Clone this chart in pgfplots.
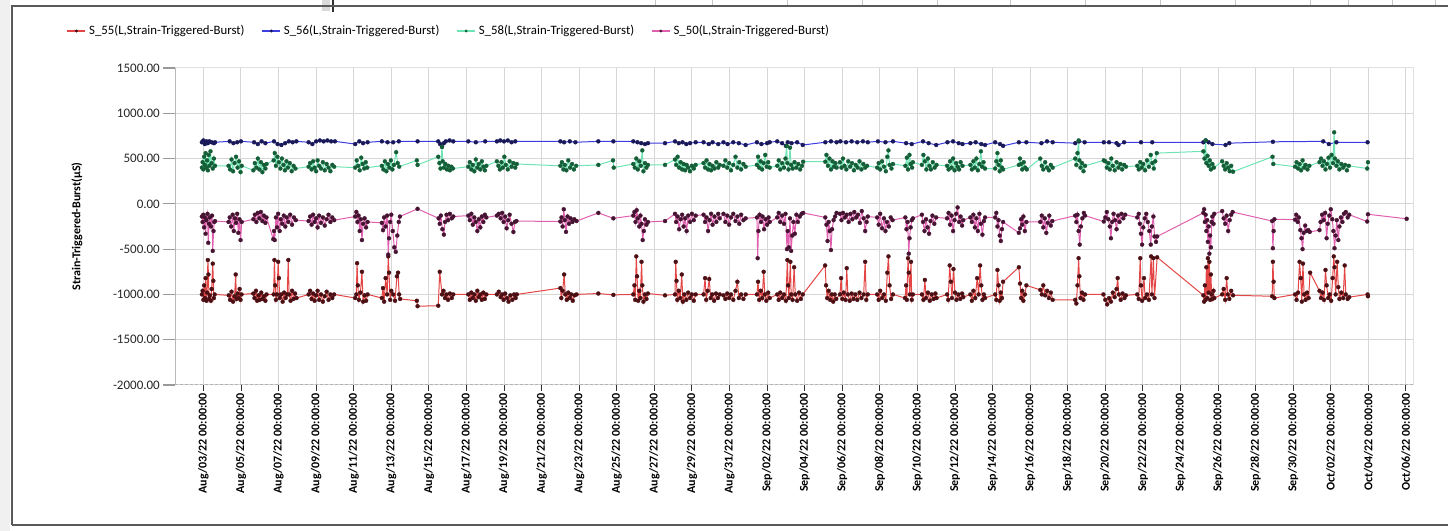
\documentclass[border=0pt]{standalone}
\usepackage{pgfplots}
\pgfplotsset{compat=1.18}
\usepackage{fontspec}
\setmainfont{Carlito}

\definecolor{l55}{RGB}{228,70,70}
\definecolor{m55}{RGB}{75,15,20}
\definecolor{l56}{RGB}{60,60,225}
\definecolor{m56}{RGB}{25,25,90}
\definecolor{l58}{RGB}{110,228,180}
\definecolor{m58}{RGB}{20,95,55}
\definecolor{l50}{RGB}{225,95,175}
\definecolor{m50}{RGB}{70,20,50}
\definecolor{gridc}{RGB}{215,215,215}
\definecolor{framec}{RGB}{90,90,90}

\begin{document}
\begin{tikzpicture}[x=1bp,y=1bp]
\useasboundingbox (0,0) rectangle (1448,531);
% window chrome around the chart panel
\fill[gray!12] (0,0) rectangle (10,531);
\foreach \xx in {655,712,787,862,937,1010,1085,1160,1235,1310,1348,1392,1435}{\draw[gray!45, line width=0.8bp] (\xx,525) -- (\xx,531);}
\fill[gray!30] (322,520) rectangle (330,531);
\draw[black!80, line width=1.4bp] (333,519) -- (333,531);
\draw[framec, line width=1.6bp] (12,6) -- (12,525) -- (1460,525);
\draw[framec, line width=1.6bp] (12,6) -- (1460,6);

\begin{axis}[
  at={(175bp,146bp)}, anchor=south west,
  scale only axis, width=1238bp, height=317bp,
  xmin=-1.51, xmax=64.38, ymin=-2000, ymax=1500,
  clip=false,
  axis line style={draw=none},
  xtick={0,2,...,64},
  xticklabels={Aug/03/22 00:00:00,Aug/05/22 00:00:00,Aug/07/22 00:00:00,Aug/09/22 00:00:00,Aug/11/22 00:00:00,Aug/13/22 00:00:00,Aug/15/22 00:00:00,Aug/17/22 00:00:00,Aug/19/22 00:00:00,Aug/21/22 00:00:00,Aug/23/22 00:00:00,Aug/25/22 00:00:00,Aug/27/22 00:00:00,Aug/29/22 00:00:00,Aug/31/22 00:00:00,Sep/02/22 00:00:00,Sep/04/22 00:00:00,Sep/06/22 00:00:00,Sep/08/22 00:00:00,Sep/10/22 00:00:00,Sep/12/22 00:00:00,Sep/14/22 00:00:00,Sep/16/22 00:00:00,Sep/18/22 00:00:00,Sep/20/22 00:00:00,Sep/22/22 00:00:00,Sep/24/22 00:00:00,Sep/26/22 00:00:00,Sep/28/22 00:00:00,Sep/30/22 00:00:00,Oct/02/22 00:00:00,Oct/04/22 00:00:00,Oct/06/22 00:00:00},
  ytick={-2000,-1500,...,1500},
  xtick pos=bottom, ytick pos=left,
  tick align=outside,
  major tick length=6bp,
  x tick style={black!80, line width=0.9bp},
  y tick style={draw=none},
  xticklabel style={rotate=90, anchor=east, font=\bfseries\fontsize{12bp}{14bp}\selectfont, inner sep=2bp},
  yticklabel style={font=\fontsize{13bp}{15bp}\selectfont, inner sep=3bp, text=black!85, xshift=-6bp},
  /pgf/number format/.cd, fixed, fixed zerofill, precision=2, 1000 sep={}, assume math mode=true,
  /pgfplots/.cd,
  grid=major,
  major grid style={draw=gridc, line width=1bp},
  ylabel={Strain-Triggered-Burst(µS)},
  every axis y label/.style={at={(rel axis cs:-0.0792,0.5)}, rotate=90, anchor=center, font=\bfseries\fontsize{12bp}{14bp}\selectfont},
  legend columns=4,
  legend style={at={(rel axis cs:-0.088,1.1167)}, anchor=west, draw=none, fill=none, inner sep=0pt,
    font=\fontsize{12.8bp}{15bp}\selectfont,
    nodes={inner sep=2.5bp},
    /tikz/every even column/.append style={column sep=14bp}},
  legend image code/.code={\draw[line width=2.4bp, mark repeat=2, mark phase=2, mark size=1.3bp] plot coordinates {(0bp,0bp) (9bp,0bp) (18bp,0bp)};},
]

% S_55
\addplot[color=l55, line width=1bp, mark=*, mark size=2bp, mark options={fill=m55, draw=m55, solid, line width=0.3bp}] coordinates {
(-0.08,-1000) (-0.04,-960) (0.00,-1060) (0.04,-900) (0.08,-1040) (0.12,-820) (0.16,-1070) (0.20,-980) (0.24,-620) (0.27,-780) (0.30,-1050) (0.34,-1010) (0.40,-1070) (0.44,-940) (0.50,-660) (0.53,-850) (0.56,-1040) (0.60,-1000)
(1.35,-1010) (1.42,-1060) (1.50,-970) (1.58,-1080) (1.66,-1020) (1.72,-780) (1.76,-1050) (1.82,-990) (1.88,-1040) (1.93,-940) (1.98,-1060) (2.03,-1000)
(2.66,-990) (2.72,-1040) (2.80,-960) (2.86,-1070) (2.94,-1010) (3.00,-1060) (3.08,-980) (3.15,-1050) (3.22,-1020) (3.30,-1070) (3.36,-1000)
(3.74,-1000) (3.78,-620) (3.82,-900) (3.86,-1060) (3.92,-1000) (3.98,-640) (4.02,-820) (4.06,-1040) (4.14,-1000) (4.22,-1080) (4.30,-980) (4.38,-1040) (4.46,-1000) (4.52,-620) (4.56,-1000) (4.64,-1070) (4.72,-960) (4.80,-1050) (4.88,-990) (4.96,-1040)
(5.60,-1000) (5.68,-960) (5.76,-1050) (5.84,-990) (5.92,-1070) (6.00,-1010) (6.08,-960) (6.16,-1060) (6.26,-1000) (6.36,-1080) (6.46,-1020) (6.56,-970) (6.66,-1060) (6.76,-1000) (6.86,-1040) (6.96,-1000)
(8.08,-1040) (8.14,-1000) (8.18,-655) (8.22,-900) (8.28,-1060) (8.36,-980) (8.44,-750) (8.50,-1080) (8.58,-1010) (8.66,-1070) (8.74,-1000)
(9.50,-1040) (9.56,-930) (9.62,-1080) (9.70,-820) (9.78,-1000) (9.84,-580) (9.88,-760) (9.94,-1060) (10.00,-960) (10.10,-1000) (10.20,-1070) (10.30,-800) (10.36,-760) (10.42,-1000) (10.47,-1050)
(11.36,-1070) (11.40,-1130) (12.50,-1125)
(12.58,-750) (12.70,-1000) (12.78,-960) (12.86,-1040) (12.94,-1000) (13.02,-1060) (13.12,-990) (13.22,-1040) (13.30,-1000)
(14.10,-1000) (14.18,-1060) (14.26,-980) (14.34,-1040) (14.42,-1000) (14.50,-1070) (14.58,-960) (14.66,-1030) (14.74,-1000) (14.82,-1060) (14.90,-980) (14.98,-1050) (15.06,-1000)
(15.62,-1000) (15.72,-970) (15.82,-1030) (15.90,-1000) (15.98,-1060) (16.06,-990) (16.16,-1040) (16.24,-1080) (16.34,-1010) (16.44,-1060) (16.54,-1000) (16.62,-1040) (16.68,-1000)
(19.00,-930) (19.05,-1040) (19.12,-960) (19.20,-780) (19.26,-1000) (19.34,-1060) (19.42,-980) (19.50,-1040) (19.58,-1000) (19.66,-1070) (19.76,-1010) (19.86,-1000)
(21.02,-990) (21.82,-1005)
(22.88,-1000) (22.94,-900) (22.98,-1060) (23.04,-580) (23.08,-800) (23.14,-1070) (23.20,-960) (23.26,-1040) (23.32,-640) (23.36,-900) (23.42,-1080) (23.50,-1000) (23.58,-1050) (23.66,-990)
(24.57,-1010)
(25.10,-1000) (25.14,-640) (25.18,-850) (25.22,-1060) (25.30,-960) (25.38,-1040) (25.46,-780) (25.52,-1080) (25.60,-1000) (25.70,-1060) (25.80,-980) (25.90,-1040) (26.00,-1000) (26.10,-1070) (26.20,-1000)
(26.62,-1000) (26.70,-820) (26.76,-1060) (26.84,-960) (26.92,-830) (27.00,-1040) (27.08,-1000) (27.18,-1070) (27.28,-990) (27.38,-1040) (27.48,-1000)
(27.68,-1010) (27.78,-1050) (27.88,-990) (27.98,-1040) (28.08,-1000) (28.20,-1060) (28.32,-960) (28.42,-860) (28.50,-1040) (28.62,-1000) (28.74,-1050) (28.86,-1000)
(29.46,-1000) (29.52,-860) (29.58,-1060) (29.66,-960) (29.74,-1040) (29.82,-750) (29.88,-1000) (29.96,-1070) (30.06,-980) (30.14,-1040)
(30.54,-1000) (30.62,-1060) (30.70,-980) (30.80,-1040) (30.90,-1000) (31.00,-1070) (31.08,-620) (31.12,-900) (31.16,-1040) (31.24,-640) (31.28,-1000) (31.36,-1060) (31.44,-700) (31.50,-1000) (31.60,-1070) (31.70,-980) (31.80,-1050) (31.90,-1000)
(33.09,-680) (33.14,-900) (33.20,-1040) (33.28,-960) (33.36,-1060) (33.44,-1000) (33.52,-1080) (33.60,-1000) (33.68,-1050)
(33.88,-1000) (33.94,-820) (34.00,-1050) (34.08,-980) (34.18,-1060) (34.24,-710) (34.30,-1000) (34.40,-1070) (34.50,-990) (34.60,-1050) (34.70,-1000) (34.80,-1060) (34.92,-980) (35.02,-1040) (35.14,-1000) (35.22,-640) (35.28,-1060) (35.36,-1000)
(35.86,-1000) (35.94,-1060) (36.02,-960) (36.12,-1040) (36.22,-1000) (36.32,-1070) (36.40,-760) (36.46,-580) (36.52,-900) (36.60,-1050) (36.70,-1000)
(37.34,-1040) (37.40,-900) (37.44,-1060) (37.50,-600) (37.54,-760) (37.60,-1000) (37.66,-640) (37.70,-1060) (37.76,-1000)
(38.24,-1000) (38.32,-1060) (38.40,-840) (38.46,-1040) (38.56,-980) (38.66,-1070) (38.76,-1000) (38.86,-1050) (38.96,-990) (39.02,-1040)
(39.58,-1000) (39.64,-1060) (39.72,-680) (39.78,-860) (39.84,-1040) (39.92,-720) (40.00,-980) (40.08,-1060) (40.18,-1000) (40.28,-1050) (40.38,-990) (40.44,-1030)
(40.82,-1000) (40.90,-1070) (40.98,-960) (41.08,-1040) (41.18,-820) (41.26,-1000) (41.34,-680) (41.40,-900) (41.46,-1060) (41.54,-1000) (41.60,-1040)
(42.14,-1000) (42.20,-1060) (42.26,-730) (42.32,-900) (42.38,-1070) (42.44,-980) (42.50,-1040) (42.56,-860)
(43.40,-700) (43.46,-880) (43.52,-1040) (43.58,-960) (43.64,-1070) (43.72,-1000) (43.80,-900)
(44.54,-950) (44.62,-1000) (44.70,-900) (44.80,-1010) (44.90,-960) (45.00,-1040) (45.10,-980) (45.20,-1060)
(46.40,-1060) (46.46,-1100) (46.52,-900) (46.58,-600) (46.62,-800) (46.68,-1040) (46.76,-980) (46.84,-1060) (46.92,-1000)
(47.90,-1000) (48.00,-1060) (48.10,-1110) (48.20,-1040) (48.30,-1080) (48.40,-980) (48.50,-1030) (48.60,-940) (48.66,-820) (48.72,-1000) (48.82,-1060) (48.92,-990) (49.02,-1040) (49.10,-1010)
(49.70,-1000) (49.78,-1050) (49.86,-600) (49.90,-900) (49.96,-1070) (50.06,-820) (50.12,-1040) (50.22,-1000) (50.32,-1060) (50.44,-580) (50.48,-1000) (50.56,-600) (50.62,-1040) (50.76,-590)
(53.22,-1010) (53.26,-1080) (53.30,-900) (53.34,-1060) (53.38,-700) (53.42,-1040) (53.46,-600) (53.50,-980) (53.54,-640) (53.58,-1060) (53.62,-780) (53.66,-1000) (53.70,-1050) (53.76,-960) (53.80,-1040)
(54.22,-1000) (54.30,-940) (54.38,-1060) (54.46,-820) (54.52,-1000) (54.60,-1050) (54.70,-960) (54.80,-1010)
(56.88,-1020) (56.92,-640) (56.96,-860) (57.00,-1040)
(58.10,-1000) (58.18,-1060) (58.26,-980) (58.34,-640) (58.40,-820) (58.46,-1080) (58.52,-660) (58.58,-1000) (58.66,-1060) (58.74,-980) (58.82,-1040) (58.90,-760)
(59.40,-960) (59.48,-1040) (59.56,-980) (59.64,-1060) (59.72,-730) (59.78,-900) (59.86,-1040) (59.94,-1000) (60.02,-1070) (60.10,-820) (60.16,-580) (60.20,-700) (60.26,-1000) (60.34,-640) (60.40,-920) (60.46,-1050) (60.56,-980) (60.66,-1040) (60.74,-680) (60.80,-1000) (60.90,-1050) (60.98,-1030)
(61.96,-1000) (61.98,-1020)
};
\addlegendentry{S\_55(L,Strain-Triggered-Burst)}

% S_56
\addplot[color=l56, line width=1bp, mark=*, mark size=2bp, mark options={fill=m56, draw=m56, solid, line width=0.3bp}] coordinates {
(-0.08,680) (0.00,700) (0.08,660) (0.16,690) (0.24,670) (0.32,690) (0.44,680) (0.56,670) (0.62,680)
(1.40,690) (1.60,670) (1.80,680) (2.00,690)
(2.70,680) (2.90,660) (3.10,690) (3.30,670)
(3.76,690) (3.95,660) (4.15,650) (4.35,670) (4.55,690) (4.75,680) (4.95,690)
(5.60,680) (5.80,660) (6.00,690) (6.20,700) (6.40,690) (6.60,700) (6.80,690) (7.00,690)
(8.08,660) (8.30,690) (8.50,670) (8.74,680)
(9.50,690) (9.80,680) (10.10,680) (10.40,690)
(11.40,690) (12.50,690) (12.60,660) (12.70,630) (12.80,670) (12.90,690) (13.10,700) (13.30,690)
(14.10,690) (14.50,680) (15.00,690)
(15.62,690) (15.80,700) (16.00,690) (16.20,700) (16.40,680) (16.60,690)
(19.00,690) (19.20,680) (19.50,690) (19.80,680)
(21.02,690) (21.82,690)
(22.88,690) (23.10,680) (23.30,670) (23.50,660) (23.66,670)
(24.57,670)
(25.10,690) (25.30,670) (25.50,680) (25.70,660) (25.90,670) (26.20,680)
(26.62,680) (26.90,660) (27.10,680) (27.40,660)
(27.68,680) (27.90,660) (28.20,680) (28.50,670) (28.86,650)
(29.46,680) (29.70,660) (30.00,670) (30.14,680)
(30.54,690) (30.80,670) (31.00,640) (31.10,680) (31.30,670) (31.60,680) (31.90,650)
(33.10,680) (33.40,690) (33.70,680)
(33.90,690) (34.20,680) (34.50,690) (34.80,680) (35.10,690) (35.36,680)
(35.90,690) (36.30,680) (36.70,690)
(37.40,670) (37.70,660)
(38.30,690) (38.60,670) (39.00,650)
(39.60,680) (39.90,690) (40.20,670) (40.40,660)
(40.82,670) (41.10,680) (41.40,660) (41.60,650)
(42.14,680) (42.40,660) (42.56,640)
(43.40,680) (43.80,680)
(44.60,670) (44.90,690) (45.20,680)
(46.40,670) (46.60,690) (46.90,680)
(47.92,680) (48.20,680) (48.60,670) (48.70,650) (49.00,680)
(49.90,680) (50.50,680)
(53.22,680) (53.34,700) (53.50,680) (53.70,660)
(54.40,650) (54.60,670)
(56.92,685)
(59.60,690) (59.90,660) (60.30,680)
(61.96,680)
};
\addlegendentry{S\_56(L,Strain-Triggered-Burst)}

% S_58
\addplot[color=l58, line width=1bp, mark=*, mark size=2bp, mark options={fill=m58, draw=m58, solid, line width=0.3bp}] coordinates {
(-0.08,400) (-0.04,460) (0.00,380) (0.04,520) (0.08,430) (0.12,560) (0.16,400) (0.20,480) (0.24,370) (0.28,540) (0.32,420) (0.38,580) (0.44,450) (0.50,390) (0.56,500) (0.62,420)
(1.34,420) (1.42,380) (1.50,490) (1.58,360) (1.66,450) (1.74,520) (1.82,400) (1.90,470) (1.98,350) (2.04,420)
(2.66,370) (2.74,450) (2.82,400) (2.90,500) (2.98,380) (3.06,460) (3.14,350) (3.22,430) (3.30,390) (3.36,440)
(3.74,480) (3.80,560) (3.86,420) (3.94,520) (4.02,460) (4.10,390) (4.18,500) (4.26,430) (4.34,370) (4.42,470) (4.50,400) (4.60,450) (4.70,360) (4.80,420) (4.90,390)
(5.60,410) (5.68,450) (5.76,380) (5.84,470) (5.92,400) (6.00,360) (6.08,480) (6.16,420) (6.26,390) (6.36,460) (6.46,370) (6.56,440) (6.66,400) (6.76,360) (6.86,430) (6.96,410)
(8.08,400) (8.16,480) (8.24,420) (8.32,370) (8.40,510) (8.48,440) (8.56,390) (8.64,460) (8.72,400)
(9.50,420) (9.58,380) (9.66,470) (9.74,360) (9.82,440) (9.90,400) (9.98,480) (10.06,380) (10.14,430) (10.26,570) (10.34,450) (10.42,410)
(11.36,480) (11.40,430)
(12.50,520) (12.56,450) (12.62,390) (12.70,630) (12.74,470) (12.80,400) (12.88,440) (12.96,380) (13.04,420) (13.12,370) (13.20,410) (13.28,390)
(14.10,410) (14.18,460) (14.26,380) (14.34,430) (14.42,360) (14.50,490) (14.58,400) (14.66,440) (14.74,380) (14.82,470) (14.90,410) (14.98,370) (15.06,420)
(15.62,470) (15.70,420) (15.78,380) (15.86,460) (15.94,400) (16.02,520) (16.10,430) (16.20,380) (16.30,470) (16.40,410) (16.50,450) (16.60,400) (16.68,440)
(19.00,420) (19.08,460) (19.16,380) (19.24,430) (19.32,370) (19.42,480) (19.52,400) (19.62,440) (19.72,380) (19.84,420)
(21.02,430) (21.80,480) (21.84,400)
(22.88,440) (22.96,400) (23.04,500) (23.12,380) (23.20,470) (23.28,420) (23.36,590) (23.42,360) (23.50,450) (23.58,400) (23.66,430)
(24.57,430)
(25.10,490) (25.16,430) (25.24,520) (25.32,400) (25.40,460) (25.48,380) (25.56,440) (25.64,370) (25.72,430) (25.80,400) (25.90,360) (26.00,420) (26.10,390) (26.20,430)
(26.62,450) (26.70,400) (26.78,480) (26.86,380) (26.94,440) (27.02,370) (27.10,420) (27.20,390) (27.30,460) (27.40,400) (27.48,430)
(27.68,420) (27.78,480) (27.88,400) (27.98,450) (28.08,370) (28.20,430) (28.32,520) (28.42,400) (28.52,460) (28.62,380) (28.74,440) (28.86,410)
(29.46,430) (29.52,520) (29.58,400) (29.66,470) (29.74,380) (29.82,450) (29.90,540) (29.98,410) (30.06,460) (30.14,400)
(30.54,420) (30.62,480) (30.70,380) (30.80,450) (30.90,400) (30.98,500) (31.04,640) (31.08,450) (31.14,380) (31.22,620) (31.28,430) (31.36,390) (31.46,460) (31.56,400) (31.66,440) (31.76,380) (31.86,420) (31.92,465)
(33.10,465) (33.16,540) (33.24,420) (33.32,500) (33.40,380) (33.48,470) (33.56,410) (33.64,450) (33.70,400)
(33.88,460) (33.96,400) (34.04,500) (34.12,420) (34.22,380) (34.32,470) (34.42,410) (34.52,450) (34.62,370) (34.72,430) (34.82,400) (34.92,470) (35.02,380) (35.12,440) (35.22,400) (35.32,420)
(35.86,400) (35.94,450) (36.02,380) (36.12,470) (36.22,410) (36.32,360) (36.40,520) (36.46,590) (36.52,430) (36.62,390) (36.70,440)
(37.36,420) (37.44,510) (37.50,380) (37.58,540) (37.64,440) (37.72,400) (37.76,460)
(38.24,430) (38.32,540) (38.40,470) (38.48,380) (38.56,500) (38.64,420) (38.72,380) (38.82,460) (38.92,400) (39.02,430)
(39.58,420) (39.66,380) (39.74,470) (39.82,400) (39.90,500) (39.98,370) (40.06,450) (40.14,410) (40.22,380) (40.30,460) (40.40,420)
(40.82,430) (40.90,380) (40.98,470) (41.06,400) (41.14,500) (41.22,370) (41.30,440) (41.38,580) (41.44,410) (41.52,460) (41.60,390)
(42.14,390) (42.20,470) (42.26,560) (42.32,430) (42.38,360) (42.44,480) (42.50,400) (42.56,380)
(43.40,430) (43.46,500) (43.52,440) (43.58,380) (43.66,460) (43.74,400) (43.82,380)
(44.54,500) (44.62,420) (44.70,380) (44.80,460) (44.90,400) (45.00,370) (45.10,430) (45.20,400)
(46.40,500) (46.46,430) (46.52,560) (46.58,700) (46.62,480) (46.68,400) (46.76,450) (46.84,360) (46.92,420)
(47.92,480) (48.00,470) (48.08,400) (48.16,450) (48.24,380) (48.32,500) (48.40,420) (48.50,370) (48.60,460) (48.70,400) (48.80,440) (48.90,380) (49.00,430) (49.10,410)
(49.70,420) (49.78,380) (49.86,460) (49.94,400) (50.02,440) (50.12,370) (50.22,480) (50.32,410) (50.42,540) (50.50,450) (50.58,390) (50.66,470) (50.74,560)
(53.22,580) (53.28,500) (53.34,700) (53.38,450) (53.44,530) (53.50,420) (53.56,480) (53.62,380) (53.70,440) (53.78,400)
(54.22,470) (54.30,420) (54.38,380) (54.46,450) (54.54,400) (54.62,360) (54.70,420) (54.80,355)
(56.90,520) (56.94,440)
(58.10,410) (58.18,460) (58.26,390) (58.34,440) (58.42,370) (58.50,480) (58.58,400) (58.66,430) (58.76,380) (58.86,420)
(59.40,460) (59.48,500) (59.56,420) (59.64,470) (59.72,380) (59.80,440) (59.88,510) (59.96,400) (60.04,540) (60.12,450) (60.18,790) (60.22,500) (60.30,420) (60.38,470) (60.46,380) (60.56,440) (60.66,400) (60.76,430) (60.86,370) (60.96,420)
(61.94,390) (61.98,460)
};
\addlegendentry{S\_58(L,Strain-Triggered-Burst)}

% S_50
\addplot[color=l50, line width=1bp, mark=*, mark size=2bp, mark options={fill=m50, draw=m50, solid, line width=0.3bp}] coordinates {
(-0.08,-140) (-0.04,-200) (0.00,-120) (0.04,-260) (0.08,-150) (0.12,-330) (0.16,-180) (0.22,-110) (0.26,-430) (0.30,-220) (0.34,-150) (0.40,-250) (0.46,-130) (0.50,-520) (0.54,-300) (0.58,-200) (0.62,-190)
(1.34,-200) (1.40,-150) (1.48,-250) (1.56,-120) (1.62,-300) (1.68,-160) (1.74,-210) (1.80,-110) (1.86,-320) (1.92,-170) (1.98,-400) (2.04,-200)
(2.66,-170) (2.74,-120) (2.82,-200) (2.90,-100) (2.98,-160) (3.06,-90) (3.14,-190) (3.22,-130) (3.30,-210) (3.36,-150)
(3.72,-390) (3.76,-300) (3.80,-400) (3.86,-150) (3.92,-260) (3.98,-110) (4.06,-300) (4.12,-170) (4.20,-220) (4.28,-130) (4.36,-250) (4.44,-150) (4.52,-200) (4.62,-120) (4.72,-230) (4.82,-150) (4.92,-180)
(5.60,-190) (5.68,-140) (5.76,-230) (5.84,-120) (5.92,-200) (6.00,-160) (6.08,-260) (6.16,-130) (6.26,-210) (6.36,-150) (6.46,-240) (6.56,-170) (6.66,-120) (6.76,-200) (6.86,-150) (6.96,-180)
(8.08,-140) (8.14,-90) (8.20,-200) (8.26,-130) (8.32,-300) (8.38,-170) (8.44,-400) (8.50,-220) (8.58,-160) (8.66,-260) (8.74,-200)
(9.50,-210) (9.56,-290) (9.62,-150) (9.70,-250) (9.78,-130) (9.84,-560) (9.88,-380) (9.94,-200) (10.00,-120) (10.08,-300) (10.16,-480) (10.24,-530) (10.32,-350) (10.40,-200) (10.46,-140)
(11.40,-55)
(12.52,-160) (12.58,-220) (12.64,-130) (12.72,-280) (12.80,-340) (12.86,-200) (12.94,-120) (13.02,-180) (13.12,-110) (13.22,-160) (13.30,-140)
(14.10,-130) (14.18,-180) (14.26,-110) (14.34,-230) (14.42,-150) (14.50,-200) (14.58,-300) (14.66,-170) (14.74,-260) (14.82,-140) (14.90,-200) (14.98,-120) (15.06,-150)
(15.62,-130) (15.72,-110) (15.82,-160) (15.90,-100) (15.98,-200) (16.06,-140) (16.14,-270) (16.22,-180) (16.30,-120) (16.40,-220) (16.50,-310) (16.58,-200) (16.66,-190)
(19.00,-195) (19.06,-150) (19.12,-250) (19.18,-60) (19.24,-180) (19.30,-310) (19.38,-140) (19.46,-220) (19.54,-160) (19.64,-200) (19.74,-170) (19.86,-190)
(21.02,-100) (21.82,-160)
(22.88,-130) (22.94,-90) (23.00,-200) (23.06,-70) (23.12,-160) (23.20,-250) (23.26,-130) (23.32,-220) (23.38,-400) (23.44,-300) (23.50,-170) (23.58,-230) (23.66,-200)
(24.57,-190)
(25.10,-110) (25.16,-200) (25.24,-140) (25.32,-280) (25.40,-170) (25.48,-120) (25.56,-250) (25.64,-160) (25.72,-300) (25.80,-130) (25.90,-200) (26.00,-110) (26.10,-180) (26.20,-130)
(26.62,-120) (26.70,-200) (26.78,-150) (26.86,-300) (26.94,-180) (27.02,-110) (27.10,-230) (27.20,-140) (27.30,-200) (27.40,-110) (27.48,-160)
(27.68,-110) (27.78,-200) (27.88,-130) (27.98,-230) (28.08,-150) (28.20,-110) (28.32,-190) (28.42,-140) (28.52,-220) (28.62,-120) (28.74,-180) (28.86,-160)
(29.46,-150) (29.50,-600) (29.54,-300) (29.60,-120) (29.68,-200) (29.76,-140) (29.84,-280) (29.92,-170) (30.00,-230) (30.08,-150) (30.14,-200)
(30.54,-150) (30.62,-100) (30.70,-200) (30.80,-130) (30.90,-220) (30.98,-110) (31.06,-500) (31.10,-300) (31.16,-480) (31.22,-160) (31.28,-520) (31.34,-350) (31.40,-200) (31.48,-330) (31.56,-120) (31.64,-200) (31.74,-140) (31.84,-110) (31.92,-100)
(33.10,-150) (33.16,-230) (33.22,-410) (33.28,-200) (33.34,-300) (33.40,-510) (33.46,-280) (33.54,-180) (33.62,-140) (33.70,-100)
(33.88,-110) (33.96,-180) (34.04,-100) (34.14,-150) (34.24,-120) (34.34,-200) (34.44,-110) (34.54,-170) (34.64,-90) (34.74,-150) (34.84,-120) (34.94,-210) (35.04,-80) (35.14,-160) (35.22,-300) (35.30,-200) (35.36,-140)
(35.86,-150) (35.94,-230) (36.02,-110) (36.12,-270) (36.22,-160) (36.30,-300) (36.38,-200) (36.48,-250) (36.58,-150) (36.68,-180)
(37.36,-150) (37.42,-280) (37.48,-200) (37.54,-550) (37.58,-380) (37.64,-260) (37.70,-180) (37.76,-160)
(38.24,-120) (38.30,-200) (38.38,-300) (38.46,-170) (38.54,-260) (38.62,-330) (38.70,-190) (38.80,-130) (38.90,-220) (39.00,-150)
(39.58,-160) (39.66,-100) (39.74,-230) (39.82,-130) (39.90,-300) (39.98,-180) (40.06,-110) (40.14,-40) (40.22,-200) (40.30,-140) (40.38,-240) (40.44,-180)
(40.82,-150) (40.90,-200) (40.98,-120) (41.06,-260) (41.14,-160) (41.22,-300) (41.30,-110) (41.38,-220) (41.46,-340) (41.54,-190) (41.60,-150)
(42.14,-150) (42.20,-100) (42.26,-250) (42.32,-180) (42.38,-350) (42.44,-410) (42.50,-280) (42.56,-200)
(43.40,-320) (43.46,-270) (43.52,-170) (43.58,-230) (43.64,-140) (43.72,-300) (43.80,-200)
(44.54,-200) (44.62,-130) (44.70,-260) (44.78,-160) (44.86,-320) (44.94,-210) (45.02,-130) (45.10,-240) (45.18,-190)
(46.40,-130) (46.46,-200) (46.52,-120) (46.58,-300) (46.64,-450) (46.70,-250) (46.78,-160) (46.86,-100) (46.92,-130)
(47.92,-195) (48.00,-150) (48.08,-90) (48.16,-170) (48.24,-250) (48.30,-380) (48.36,-200) (48.44,-110) (48.52,-180) (48.60,-280) (48.68,-130) (48.76,-200) (48.86,-110) (48.96,-160) (49.06,-120)
(49.70,-150) (49.78,-110) (49.84,-220) (49.90,-330) (49.96,-450) (50.02,-260) (50.10,-160) (50.18,-110) (50.26,-200) (50.34,-300) (50.42,-450) (50.48,-250) (50.56,-140) (50.62,-360) (50.70,-420) (50.76,-360)
(53.22,-100) (53.26,-60) (53.30,-200) (53.34,-120) (53.38,-300) (53.42,-180) (53.46,-420) (53.50,-250) (53.54,-550) (53.58,-350) (53.62,-480) (53.66,-200) (53.70,-140) (53.76,-220) (53.80,-110)
(54.22,-80) (54.30,-160) (54.38,-220) (54.46,-130) (54.54,-300) (54.62,-180) (54.70,-120) (54.78,-90)
(56.88,-190) (56.92,-490) (56.96,-300) (57.00,-170)
(58.10,-175) (58.16,-120) (58.24,-200) (58.30,-150) (58.38,-290) (58.44,-380) (58.50,-500) (58.56,-320) (58.64,-240) (58.72,-300) (58.80,-290) (58.88,-310)
(59.40,-290) (59.46,-200) (59.54,-120) (59.62,-180) (59.70,-100) (59.78,-380) (59.84,-220) (59.92,-130) (60.00,-60) (60.08,-170) (60.14,-300) (60.20,-490) (60.26,-350) (60.32,-180) (60.40,-400) (60.46,-250) (60.54,-150) (60.62,-200) (60.70,-110) (60.80,-90) (60.90,-150) (60.98,-120)
(61.94,-195) (61.98,-115) (64.04,-165)
};
\addlegendentry{S\_50(L,Strain-Triggered-Burst)}

% panel border: solid left edge, dashed floor, faint top and right
\draw[gray!25, line width=1bp] (rel axis cs:0,1) -- (rel axis cs:1,1) -- (rel axis cs:1,0);
\draw[gray!55, line width=1bp] (rel axis cs:0,0) -- (rel axis cs:0,1);
\draw[gray!60, line width=1bp, dash pattern=on 3bp off 2bp] (rel axis cs:0,0) -- (rel axis cs:1,0);
% long outside ticks on the value axis
\pgfplotsinvokeforeach{-2000,-1500,-1000,-500,0,500,1000,1500}{
  \draw[gray!80, line width=1.2bp] (axis cs:-1.51,#1) -- (axis cs:-2.149,#1);
}
\end{axis}
\end{tikzpicture}
\end{document}
